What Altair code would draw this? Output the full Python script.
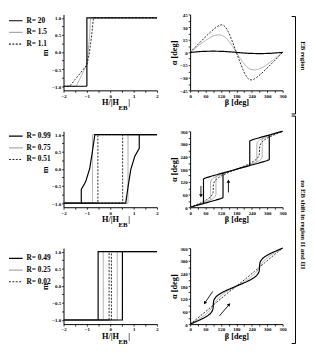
import altair as alt
import pandas as pd

FONT = "Liberation Serif"
GRAY = "#aaaaaa"
DOT = "#2b2b2b"

# ---------------- Row 1 : R > 1 ----------------
ROW1_NAMES = ["R= 20", "R= 1.5", "R= 1.1"]
R20_H = [-2, -1, -1, 2]
R20_M = [-1, -1, 1, 1]
R15_H = [-2, -1.46, -1.3, -1.15, -1.0, -0.95, -0.9, -0.86, -0.84, 2]
R15_M = [-1, -1, -0.78, -0.57, -0.37, -0.05, 0.35, 0.75, 1.0, 1.0]
R11_H = [-2, -1.74, -1.5, -1.25, -1.0, -0.9, -0.82, -0.76, -0.72, 2]
R11_M = [-1, -1, -0.8, -0.59, -0.37, -0.05, 0.35, 0.72, 1.0, 1.0]

R20_B = [0, 45, 90, 135, 180, 225, 270, 315, 360]
R20_A = [0, 1.1, 1.5, 1.1, 0, -1.1, -1.5, -1.1, 0]
R15_B = [0, 20.1, 40.9, 63.6, 79.9, 94.6, 110.9, 125.4, 136.1, 146.4, 159.1, 169.9, 180,
         190.1, 200.9, 213.6, 223.9, 234.6, 249.1, 265.4, 280.1, 296.4, 319.1, 339.9, 360]
R15_A = [0, 5, 10, 15, 18, 20, 20.9, 20, 18, 15, 10, 5, 0,
         -5, -10, -15, -18, -20, -20.9, -20, -18, -15, -10, -5, 0]
R11_B = [0, 32.1, 65, 82.5, 102.3, 113.4, 122.7, 130.6, 137.7, 147.5, 155, 167.9, 180,
         192.1, 205, 212.5, 222.3, 229.4, 237.3, 246.6, 257.7, 277.5, 295, 327.9, 360]
R11_A = [0, 10, 20, 25, 30, 32, 32.7, 32, 30, 25, 20, 10, 0,
         -10, -20, -25, -30, -32, -32.7, -32, -30, -25, -20, -10, 0]

# ---------------- Row 2 : 0.5 < R < 1 ----------------
ROW2_NAMES = ["R= 0.99", "R= 0.75", "R= 0.51"]
R099_H = [-2, 0.66, 0.77, 0.88, 1.05, 1.24, 1.24, 2, -0.66, -0.77, -0.88, -1.05, -1.24, -1.24, -2]
R099_M = [-1, -1, -0.48, -0.01, 0.37, 0.6, 1, 1, 1, 0.48, 0.01, -0.37, -0.6, -1, -1]
R075_H = [-2, 0.76, 0.76, 2, -0.76, -0.76, -2]
R075_M = [-1, -1, 1, 1, 1, -1, -1]
R051_H = [-2, 0.53, 0.53, 2, -0.53, -0.53, -2]
R051_M = [-1, -1, 1, 1, 1, -1, -1]

R099_B = [0, 29.8, 59.5, 89, 117.2, 126.9, 128, 128, 150.2, 180, 209.8, 239.5, 269, 297.2, 306.9, 308,
          308, 330.2, 360, 330.2, 300.5, 271, 242.8, 233.1, 232, 232, 209.8, 180, 150.2, 120.5, 91,
          62.8, 53.1, 52, 52, 29.8, 0]
R099_A = [0, 10, 20, 30, 40, 45, 47, 162.5, 170, 180, 190, 200, 210, 220, 225, 227,
          342.5, 350, 360, 350, 340, 330, 320, 315, 313, 197.5, 190, 180, 170, 160, 150,
          140, 135, 133, 17.5, 10, 0]
R075_B = [0, 24.9, 48.8, 70.5, 87.6, 97.6, 100.5, 100.5, 109.5, 131.2, 155.1, 180, 204.9, 228.8,
          250.5, 267.6, 277.6, 280.5, 280.5, 289.5, 311.2, 335.1, 360, 335.1, 311.2, 289.5, 272.4,
          262.4, 259.5, 259.5, 250.5, 228.8, 204.9, 180, 155.1, 131.2, 109.5, 92.4, 82.4, 79.5,
          79.5, 70.5, 48.8, 24.9, 0]
R075_A = [0, 10, 20, 30, 40, 50, 60.3, 145.2, 150, 160, 170, 180, 190, 200,
          210, 220, 230, 240.3, 325.2, 330, 340, 350, 360, 350, 340, 330, 320,
          310, 299.7, 214.8, 210, 200, 190, 180, 170, 160, 150, 140, 130, 119.7,
          34.8, 30, 20, 10, 0]
R051_B = [0, 20, 39.1, 56.2, 70.2, 80.2, 86.2, 89.1, 90, 90, 90.9, 93.8, 99.8, 109.8, 123.8, 140.9,
          160, 180, 200, 219.1, 236.2, 250.2, 260.2, 266.2, 269.1, 270, 270, 270.9, 273.8, 279.8,
          289.8, 303.8, 320.9, 340, 360]
R051_A = [0, 10, 20, 30, 40, 50, 60, 70, 80, 100, 110, 120, 130, 140, 150, 160,
          170, 180, 190, 200, 210, 220, 230, 240, 250, 260, 280, 290, 300, 310,
          320, 330, 340, 350, 360]

ROW2_ARR_B_FROM = [42, 149]
ROW2_ARR_A_FROM = [101, 70]
ROW2_ARR_B_TO = [42, 149]
ROW2_ARR_A_TO = [54, 124]
ROW2_ARR_ANGLE = [180, 0]

# ---------------- Row 3 : R < 0.5 ----------------
ROW3_NAMES = ["R= 0.49", "R= 0.25", "R= 0.02"]
R049_H = [-2, 0.52, 0.52, 2, -0.52, -0.52, -2]
R049_M = [-1, -1, 1, 1, 1, -1, -1]
R025_H = [-2, 0.3, 0.3, 2, -0.3, -0.3, -2]
R025_M = [-1, -1, 1, 1, 1, -1, -1]
R002_H = [-2, 0.05, 0.05, 2, -0.05, -0.05, -2]
R002_M = [-1, -1, 1, 1, 1, -1, -1]

R049_B = [0, 19.65, 38.4, 55.1, 68.9, 78.9, 85.1, 88.4, 89.65, 90, 90.35, 91.6, 94.9, 101.1, 111.1,
          124.9, 141.6, 160.35, 180, 199.65, 218.4, 235.1, 248.9, 258.9, 265.1, 268.4, 269.65, 270,
          270.35, 271.6, 274.9, 281.1, 291.1, 304.9, 321.6, 340.35, 360]
R025_B = [0, 14.9, 29.25, 42.5, 54.25, 64.25, 72.5, 79.25, 84.9, 90, 95.1, 100.75, 107.5, 115.75,
          125.75, 137.5, 150.75, 165.1, 180, 194.9, 209.25, 222.5, 234.25, 244.25, 252.5, 259.25,
          264.9, 270, 275.1, 280.75, 287.5, 295.75, 305.75, 317.5, 330.75, 345.1, 360]
R002_B = [0, 10.4, 20.7, 31.0, 41.1, 51.1, 61.0, 70.7, 80.4, 90, 99.6, 109.3, 119.0, 128.9, 138.9,
          149.0, 159.3, 169.6, 180, 190.4, 200.7, 211.0, 221.1, 231.1, 241.0, 250.7, 260.4, 270,
          279.6, 289.3, 299.0, 308.9, 318.9, 329.0, 339.3, 349.6, 360]
ROW3_A = [0, 10, 20, 30, 40, 50, 60, 70, 80, 90, 100, 110, 120, 130, 140, 150, 160, 170, 180,
          190, 200, 210, 220, 230, 240, 250, 260, 270, 280, 290, 300, 310, 320, 330, 340, 350, 360]

ROW3_ARR_B_FROM = [88, 114]
ROW3_ARR_A_FROM = [155, 39]
ROW3_ARR_B_TO = [57, 152]
ROW3_ARR_A_TO = [100, 93]
ROW3_ARR_ANGLE = [215, 40]

# ---------------- axis ticks / titles ----------------
H_TICKS = [-2, -1.5, -1, -0.5, 0, 0.5, 1, 1.5, 2]
M_TICKS = [-1, -0.75, -0.5, -0.25, 0, 0.25, 0.5, 0.75, 1]
A1_TICKS = [-45, -37.5, -30, -22.5, -15, -7.5, 0, 7.5, 15, 22.5, 30, 37.5, 45]
DEG_TICKS = [0, 30, 60, 90, 120, 150, 180, 210, 240, 270, 300, 330, 360]
SUB_TEXT = ["EB", "|"]
SUB_H = [0.35, 0.77]
SUB_M = [-1.64, -1.46]
SUB_SIZE = [7, 8.5]

# bracket annotations (drawn in the right-hand panels, in their beta / alpha units)
BRACKET_LABELS = ["EB region", "no EB shift in region II and III"]
BR_LINE_B = 410
BR_TICK_B = 395
BR_TEXT_B = 438
BR1_SPAN = [42.5, -73]
BR1_TICKS = [42.5, -73]
BR1_TEXT_A = -4
BR2_SPAN = [432, -196]
BR2_TICKS = [432]
BR2_TEXT_A = -83
BR3_SPAN = [360, -92]
BR3_TICKS = [-92]

STYLE_COLOR = ["black", GRAY, DOT]
STYLE_DASH = [[1, 0], [1, 0], [2, 1.5]]
STYLE_WIDTH = [1.2, 1.0, 1.0]
DRAW_ORDER = [1, 2, 0]

W_L, W_R, H = 96, 95, 78

H_AXIS = alt.Axis(values=H_TICKS, labelExpr="datum.value == round(datum.value) ? format(datum.value, 'd') : ''",
                  title="H/|H", titleAlign="right", titleX=56.5, titleY=12, titleBaseline="middle",
                  labelOverlap=False, labelFlush=False)
M_AXIS = alt.Axis(values=M_TICKS,
                  labelExpr="abs(datum.value*2 - round(datum.value*2)) < 0.001 ? format(datum.value, '.1f') : ''",
                  title="m", titlePadding=2, labelOverlap=False, labelFlush=False)
B_AXIS = alt.Axis(values=DEG_TICKS, labelExpr="datum.value % 60 == 0 ? datum.label : ''",
                  title="β [deg]", titlePadding=0, labelOverlap=False, labelFlush=False)
A1_AXIS = alt.Axis(values=A1_TICKS, labelExpr="datum.value % 15 == 0 ? datum.label : ''",
                   title="α [deg]", titlePadding=1, labelOverlap=False, labelFlush=False)
A_AXIS = alt.Axis(values=DEG_TICKS, labelExpr="datum.value % 60 == 0 ? datum.label : ''",
                  title="α [deg]", titlePadding=1, labelOverlap=False, labelFlush=False)


def curves_df(names, xs_list, ys_list):
    frames = []
    for n, xs, ys in zip(names, xs_list, ys_list):
        frames.append(pd.DataFrame({"R": n, "x": xs, "y": ys, "i": list(range(len(xs)))}))
    return pd.concat(frames, ignore_index=True)


def m_panel(names, hs, ms, legend_y):
    df = curves_df(names, hs, ms)
    legend = alt.Legend(title=None, orient="none", legendX=-57, legendY=legend_y, direction="vertical")
    xs = alt.Scale(domain=[-2, 2], nice=False, zero=False)
    ys = alt.Scale(domain=[-1.12, 1.1], nice=False, zero=False)
    layers = []
    for k in DRAW_ORDER:
        layers.append(
            alt.Chart(df).transform_filter(alt.datum.R == names[k])
            .mark_line(strokeWidth=STYLE_WIDTH[k])
            .encode(
                x=alt.X("x:Q", scale=xs, axis=H_AXIS),
                y=alt.Y("y:Q", scale=ys, axis=M_AXIS),
                order=alt.Order("i:Q"),
                color=alt.Color("R:N", scale=alt.Scale(domain=names, range=STYLE_COLOR), legend=legend),
                strokeDash=alt.StrokeDash("R:N", scale=alt.Scale(domain=names, range=STYLE_DASH), legend=legend),
            )
        )
    sub_df = pd.DataFrame({"t": SUB_TEXT, "x": SUB_H, "y": SUB_M, "fs": SUB_SIZE})
    sub = alt.Chart(sub_df).mark_text(font=FONT, fontWeight="bold", align="left", baseline="middle",
                                      color="black").encode(
        x=alt.X("x:Q", scale=xs, axis=H_AXIS),
        y=alt.Y("y:Q", scale=ys, axis=M_AXIS),
        text="t:N",
        size=alt.Size("fs:Q", scale=None, legend=None),
    )
    return alt.layer(*layers, sub).properties(width=W_L, height=H)


def a_panel(bs, as_, ydomain, yaxis, arrows=None, bracket=None):
    xs = alt.Scale(domain=[0, 360], nice=False, zero=False)
    ys = alt.Scale(domain=ydomain, nice=False, zero=False)
    X = lambda f: alt.X(f, scale=xs, axis=B_AXIS)
    Y = lambda f: alt.Y(f, scale=ys, axis=yaxis)
    layers = []
    for k in DRAW_ORDER:
        df = pd.DataFrame({"x": bs[k], "y": as_[k], "i": list(range(len(bs[k])))})
        layers.append(
            alt.Chart(df).mark_line(color=STYLE_COLOR[k], strokeDash=STYLE_DASH[k], strokeWidth=STYLE_WIDTH[k])
            .encode(x=X("x:Q"), y=Y("y:Q"), order=alt.Order("i:Q"))
        )
    if arrows is not None:
        b0, a0, b1, a1, ang = arrows
        adf = pd.DataFrame({"x": b0, "y": a0, "x2": b1, "y2": a1, "ang": ang})
        layers.append(
            alt.Chart(adf).mark_rule(color="black", strokeWidth=0.9).encode(
                x=X("x:Q"), y=Y("y:Q"), x2="x2:Q", y2="y2:Q")
        )
        layers.append(
            alt.Chart(adf).mark_point(shape="triangle-up", filled=True, size=14, color="black", opacity=1)
            .encode(x=X("x2:Q"), y=Y("y2:Q"), angle=alt.Angle("ang:Q", scale=None))
        )
    if bracket is not None:
        span, ticks, label, label_a = bracket
        vdf = pd.DataFrame({"x": [BR_LINE_B], "y": [span[0]], "y2": [span[1]]})
        layers.append(alt.Chart(vdf).mark_rule(color="black", strokeWidth=1).encode(
            x=X("x:Q"), y=Y("y:Q"), y2="y2:Q"))
        tdf = pd.DataFrame({"x": [BR_TICK_B] * len(ticks), "x2": [BR_LINE_B] * len(ticks), "y": ticks})
        layers.append(alt.Chart(tdf).mark_rule(color="black", strokeWidth=1).encode(
            x=X("x:Q"), x2="x2:Q", y=Y("y:Q")))
        if label is not None:
            ldf = pd.DataFrame({"x": [BR_TEXT_B], "y": [label_a], "t": [label]})
            layers.append(alt.Chart(ldf).mark_text(angle=90, font=FONT, fontWeight="bold", fontSize=7,
                                                   align="center", baseline="middle", color="black")
                          .encode(x=X("x:Q"), y=Y("y:Q"), text="t:N"))
    return alt.layer(*layers).properties(width=W_R, height=H)


panels = [
    m_panel(ROW1_NAMES, [R20_H, R15_H, R11_H], [R20_M, R15_M, R11_M], -1.5),
    a_panel([R20_B, R15_B, R11_B], [R20_A, R15_A, R11_A], [-45, 45], A1_AXIS,
            bracket=(BR1_SPAN, BR1_TICKS, BRACKET_LABELS[0], BR1_TEXT_A)),
    m_panel(ROW2_NAMES, [R099_H, R075_H, R051_H], [R099_M, R075_M, R051_M], -3),
    a_panel([R099_B, R075_B, R051_B], [R099_A, R075_A, R051_A], [0, 360], A_AXIS,
            (ROW2_ARR_B_FROM, ROW2_ARR_A_FROM, ROW2_ARR_B_TO, ROW2_ARR_A_TO, ROW2_ARR_ANGLE),
            bracket=(BR2_SPAN, BR2_TICKS, BRACKET_LABELS[1], BR2_TEXT_A)),
    m_panel(ROW3_NAMES, [R049_H, R025_H, R002_H], [R049_M, R025_M, R002_M], 2.5),
    a_panel([R049_B, R025_B, R002_B], [ROW3_A, ROW3_A, ROW3_A], [0, 360], A_AXIS,
            (ROW3_ARR_B_FROM, ROW3_ARR_A_FROM, ROW3_ARR_B_TO, ROW3_ARR_A_TO, ROW3_ARR_ANGLE),
            bracket=(BR3_SPAN, BR3_TICKS, None, None)),
]

chart = alt.concat(*panels, columns=2, spacing={"row": 42, "column": 34}, bounds="flush").resolve_scale(
    color="independent", strokeDash="independent"
).properties(
    padding={"left": 0, "top": 0, "right": 0, "bottom": 0}
).configure_view(stroke=None).configure_axis(
    labelFont=FONT, labelFontWeight="bold", labelFontSize=5, labelColor="black",
    titleFont=FONT, titleFontWeight="bold", titleFontSize=8.5, titleColor="black",
    domainColor="black", domainWidth=1, tickColor="black", tickWidth=0.8, tickSize=2,
    labelPadding=1, grid=False,
).configure_legend(
    labelFont=FONT, labelFontWeight="bold", labelFontSize=7.5, labelColor="black",
    symbolType="stroke", symbolSize=196, symbolStrokeWidth=1.2, labelOffset=3, rowPadding=-4, padding=0,
)

chart.save("out.html", embed_options={"renderer": "svg", "actions": False})
